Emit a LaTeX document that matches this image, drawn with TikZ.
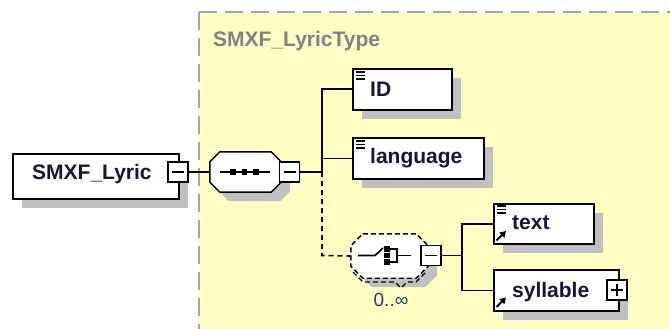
\documentclass[tikz,border=0pt]{standalone}
\usepackage{fontspec}
\setmainfont{Liberation Sans}
\usetikzlibrary{arrows.meta}
\definecolor{bgyellow}{RGB}{255,255,196}
\definecolor{borderg}{RGB}{165,165,165}
\definecolor{shadowg}{RGB}{192,192,192}
\definecolor{lblc}{RGB}{20,20,60}
\definecolor{typeg}{RGB}{128,128,138}
\definecolor{occc}{RGB}{30,60,120}
\newcommand\octpath[2]{([shift={(#2,0)}]#1.north west) -- ([shift={(-#2,0)}]#1.north east) -- ([shift={(0,#2)}]#1.north east) -- ([shift={(0,-#2)}]#1.south east) -- ([shift={(-#2,0)}]#1.south east) -- ([shift={(#2,0)}]#1.south west) -- ([shift={(0,-#2)}]#1.south west) -- ([shift={(0,#2)}]#1.north west) -- cycle}
\begin{document}
\begin{tikzpicture}[x=1pt,y=-1pt,
  shadowed/.style={preaction={fill=shadowg,draw=none,transform canvas={shift={(9pt,-9pt)}}}},
  elbox/.style={draw=black,line width=1.6pt,fill=white,inner sep=0pt,anchor=north west,shadowed},
  pmbox/.style={draw=black,line width=1.2pt,fill=white,inner sep=0pt,minimum size=20pt},
  frame/.style={draw=none,inner sep=0pt},
  lbl/.style={font=\fontsize{21}{25}\selectfont\bfseries,text=lblc,inner sep=0pt,anchor=base west},
  conn/.style={line width=1.6pt},
  dconn/.style={line width=1.6pt,dash pattern=on 5pt off 4pt},
  icon/.style={line width=1.7pt},
  refarrow/.style={line width=2pt,-{Triangle[length=6pt,width=7pt]}}
]
\useasboundingbox (0,0) rectangle (670,329);
% type area
\fill[bgyellow] (199,12) rectangle (672,331);
\draw[borderg,line width=1.8pt,dash pattern=on 18pt off 8pt] (199,12) -- (672,12);
\draw[borderg,line width=1.8pt,dash pattern=on 18pt off 8pt] (199,12) -- (199,331);
\node[font=\fontsize{21}{25}\selectfont\bfseries,text=typeg,inner sep=0pt,anchor=base west] (typelbl) at (213,47) {SMXF\_LyricType};

% root element
\node[elbox,minimum width=166pt,minimum height=45pt] (lyric) at (12,153) {};
\node[lbl] (lyrict) at (32,179) {SMXF\_Lyric};
\node[pmbox] (lyricm) at (178,172) {};
\draw[line width=1.3pt] ([xshift=-6pt]lyricm.center) -- ([xshift=6pt]lyricm.center);

% sequence compositor
\node[frame,minimum width=71pt,minimum height=40pt] (seq) at (245.5,172) {};
\fill[shadowg,transform canvas={shift={(9pt,-9pt)}}] \octpath{seq}{10};
\draw[line width=1.5pt,fill=white] \octpath{seq}{10};
\draw[icon] (220,172) -- (270,172);
\foreach \xx in {233,244.5,256}{\fill (\xx-2.6,169.4) rectangle (\xx+2.6,174.6);}
\node[pmbox] (seqm) at (289.5,172) {};
\draw[line width=1.3pt] ([xshift=-6pt]seqm.center) -- ([xshift=6pt]seqm.center);
\coordinate (j1) at (322,172);

% children
\node[elbox,minimum width=99pt,minimum height=41pt] (id) at (352,68) {};
\node[lbl] (idt) at (370,96) {ID};
\node[elbox,minimum width=131pt,minimum height=41pt] (lang) at (352,137) {};
\node[lbl] (langt) at (370,163) {language};
\foreach \bx/\by in {352/68,352/137}{
  \foreach \dy in {4,7.5,11}{\draw[icon] (\bx+3.5,\by+\dy) -- (\bx+13,\by+\dy);}
}

% choice compositor
\node[frame,minimum width=77pt,minimum height=44pt] (choice) at (389.5,256) {};
\fill[shadowg,transform canvas={shift={(9pt,-9pt)}}] \octpath{choice}{12};
\draw[line width=1.4pt,dash pattern=on 5pt off 3pt,fill=white] \octpath{choice}{12};
\draw[line width=1.4pt,dash pattern=on 5pt off 3pt] (353,272) -- (363,282) -- (395,282) -- (401,288) -- (407,282) -- (416,282) -- (426,272);
\draw[icon] (358,255.5) -- (375,255.5) -- (383,248);
\foreach \yy in {249,255.5,262}{\fill (384,\yy-2.8) rectangle (389.5,\yy+2.8);}
\draw[icon] (389.5,249) -- (397,249) -- (397,262) -- (389.5,262);
\draw[icon] (397,255.5) -- (411,255.5);
\node[pmbox] (choicem) at (431,255.5) {};
\draw[line width=1.3pt] ([xshift=-6pt]choicem.center) -- ([xshift=6pt]choicem.center);
\node[font=\fontsize{19}{22}\selectfont,text=occc,inner sep=0pt] (occ) at (391,300) {0..∞};
\coordinate (j2) at (462,255.5);

\node[elbox,minimum width=100pt,minimum height=40pt] (text) at (493,203) {};
\node[lbl] (textt) at (512,229) {text};
\node[elbox,minimum width=125pt,minimum height=41pt] (syl) at (493,269) {};
\node[lbl] (sylt) at (512,297) {syllable};
\foreach \dy in {3,6.5,10}{\draw[icon] (497,203+\dy) -- (506,203+\dy);}
\draw[refarrow] (496.5,240.5) -- (506,231);
\draw[refarrow] (496.5,307) -- (506,297.5);
\node[pmbox] (sylp) at (617,290) {};
\draw[line width=1.3pt] ([xshift=-6pt]sylp.center) -- ([xshift=6pt]sylp.center);
\draw[line width=1.3pt] ([yshift=-6pt]sylp.center) -- ([yshift=6pt]sylp.center);

% connectors
\draw[conn] (lyricm.east) -- (seq.west);
\draw[conn] (seqm.east) -- (j1);
\draw[conn] (id.west) -- (j1 |- id.west) -- (j1);
\draw[conn] (lang.west) -- (j1 |- lang.west);
\draw[dconn] (j1) -- (j1 |- choicem.west) -- (choice.west);
\draw[conn] (choicem.east) -- (j2);
\draw[conn] (text.west) -- (j2 |- text.west) -- (j2 |- syl.west) -- (syl.west);
\end{tikzpicture}
\end{document}
